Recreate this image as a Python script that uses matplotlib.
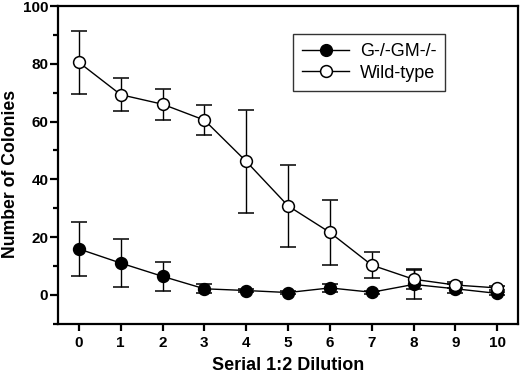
import matplotlib
matplotlib.use("Agg")
import matplotlib.pyplot as plt
from matplotlib.lines import Line2D
from matplotlib.ticker import MultipleLocator

# ── Data ──
dilution = [0, 1, 2, 3, 4, 5, 6, 7, 8, 9, 10]

wt_mean = [80.5, 69.3, 66.0, 60.5, 46.2, 30.8, 21.6, 10.3, 5.4, 3.4, 2.4]
wt_err = [11.0, 5.8, 5.4, 5.1, 17.8, 14.2, 11.4, 4.4, 3.4, 1.2, 0.8]

ko_mean = [15.9, 11.0, 6.4, 2.1, 1.5, 0.8, 2.4, 0.9, 3.6, 2.1, 0.5]
ko_err = [9.3, 8.3, 5.0, 1.5, 0.6, 0.5, 1.5, 0.5, 5.1, 1.5, 0.6]

plt.rcParams["font.family"] = ["Liberation Sans", "DejaVu Sans"]

fig = plt.figure(figsize=(5.2, 3.76), dpi=100)
ax = fig.add_axes([0.1115, 0.139, 0.885, 0.845])

common = dict(color="black", linewidth=1.0, elinewidth=1.0, capsize=6,
              capthick=1.0, markersize=8.5, markeredgewidth=1.1)

ax.errorbar(dilution, ko_mean, yerr=ko_err, fmt="-o",
            markerfacecolor="black", markeredgecolor="black", **common)
ax.errorbar(dilution, wt_mean, yerr=wt_err, fmt="-o",
            markerfacecolor="white", markeredgecolor="black", **common)

ax.set_xlim(-0.5, 10.5)
ax.set_ylim(-10, 100)
ax.set_xticks(dilution)
ax.yaxis.set_major_locator(MultipleLocator(20))
ax.yaxis.set_minor_locator(MultipleLocator(10))
ax.set_yticks([0, 20, 40, 60, 80, 100])

for side in ["left", "bottom", "top", "right"]:
    ax.spines[side].set_linewidth(1.6)

ax.tick_params(axis="y", which="major", direction="out", length=5.5,
               width=1.6, labelsize=11, pad=1.5)
ax.tick_params(axis="x", which="major", direction="out", length=5,
               width=1.6, labelsize=11, pad=4)
ax.tick_params(axis="y", which="minor", direction="out", length=3.5, width=1.6)
for lbl in ax.get_xticklabels() + ax.get_yticklabels():
    lbl.set_fontweight("bold")

ax.set_xlabel("Serial 1:2 Dilution", fontsize=13, fontweight="bold",
              labelpad=5)
ax.set_ylabel("Number of Colonies", fontsize=12.7, fontweight="bold")
ax.yaxis.set_label_coords(-0.084, 0.47)

handles = [
    Line2D([], [], color="black", linewidth=1.0, marker="o", markersize=8.5,
           markerfacecolor="black", markeredgecolor="black"),
    Line2D([], [], color="black", linewidth=1.0, marker="o", markersize=8.5,
           markerfacecolor="white", markeredgecolor="black",
           markeredgewidth=1.1),
]
leg = ax.legend(handles, ["G-/-GM-/-", "Wild-type"], loc="upper left",
                bbox_to_anchor=(0.511, 0.912), fontsize=13, frameon=True,
                fancybox=False, edgecolor="black", handlelength=2.6,
                borderpad=0.5, labelspacing=0.25, handletextpad=0.6,
                borderaxespad=0)
leg.get_frame().set_linewidth(1.0)

fig.savefig("out.png", dpi=100)
